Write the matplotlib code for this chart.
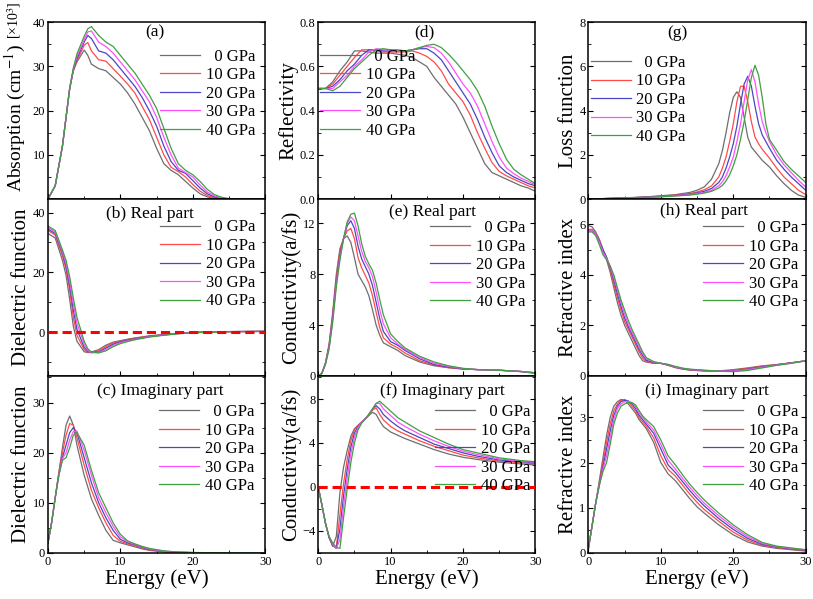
import matplotlib
matplotlib.use('Agg')
import matplotlib.pyplot as plt
from matplotlib.ticker import AutoMinorLocator

plt.rcParams['font.family'] = ['Liberation Serif', 'DejaVu Serif']
plt.rcParams['mathtext.fontset'] = 'stix'
plt.rcParams['axes.linewidth'] = 1.1

pressures = ['\u20070 GPa', '10 GPa', '20 GPa', '30 GPa', '40 GPa']
colors = ['#6e6e6e', '#ff4a4a', '#4848c0', '#ff50ff', '#3fa040']

# (a) absorption [x10^3 cm^-1]
E_abs = [0, 1, 2, 3, 3.5, 4, 5, 5.5, 6, 7, 8, 9, 10, 11, 12, 13, 14, 15, 16, 17, 18, 19, 20, 21, 22, 23, 24, 25, 26, 28, 30]
abs_0 = [0, 3, 12, 25, 29, 31, 33.7, 32.5, 30.5, 29.5, 29, 27.5, 26, 24, 21.5, 18.5, 15.5, 11.5, 8, 6.5, 5.5, 4, 2.5, 1.2, 0.5, 0.1, 0, 0, 0, 0, 0]
abs_10 = [0, 3, 12, 25, 29, 31.3, 34.8, 35.4, 33.5, 31.5, 31.2, 29.5, 27.8, 26, 24, 21, 18, 14, 10, 7.2, 6.2, 5, 3.3, 1.8, 0.8, 0.3, 0.05, 0, 0, 0, 0]
abs_20 = [0, 3, 12, 25, 29.2, 31.8, 35.5, 37, 36.3, 33.5, 33, 31.5, 29.5, 27.5, 25.5, 23, 20, 16.5, 12, 8.5, 6.5, 5.8, 4.2, 2.5, 1.2, 0.5, 0.1, 0, 0, 0, 0]
abs_30 = [0, 3, 12, 25, 29.4, 32.3, 36, 37.8, 38, 35.5, 34.5, 33, 31, 29, 27, 24.5, 22, 18.5, 14, 10, 7, 6, 5, 3.2, 1.6, 0.7, 0.2, 0.05, 0, 0, 0]
abs_40 = [0, 3, 12, 25, 29.6, 32.8, 36.8, 38.5, 39, 37, 35.5, 34.5, 32.5, 30.5, 28.5, 26, 23.5, 20.5, 16, 11.5, 8, 6.5, 5.5, 4, 2.2, 1, 0.4, 0.1, 0.02, 0, 0]

# (b) dielectric function, real part
E_eps1 = [0, 1, 2, 2.5, 3, 3.5, 4, 5, 5.5, 6, 7, 8, 9, 10, 11, 12, 14, 16, 18, 20, 22, 25, 30]
eps1_0 = [33, 31.5, 24, 19, 11, 2, -3, -6.5, -6.8, -6.6, -5.8, -4.3, -3.3, -2.8, -2.3, -1.9, -1.2, -0.7, -0.3, 0, 0.1, 0.25, 0.3]
eps1_10 = [34, 32.5, 25.5, 21, 14, 5, -1, -5.8, -6.7, -6.8, -6.2, -4.8, -3.6, -3.0, -2.5, -2.0, -1.3, -0.8, -0.35, -0.05, 0.1, 0.2, 0.3]
eps1_20 = [34.5, 33, 26.5, 22, 15.5, 7.5, 1, -5, -6.4, -6.8, -6.6, -5.3, -4.0, -3.2, -2.7, -2.2, -1.4, -0.9, -0.4, -0.1, 0.05, 0.2, 0.3]
eps1_30 = [35, 33.5, 27, 23, 17, 9.5, 3, -4, -6, -6.8, -6.8, -5.8, -4.4, -3.5, -2.9, -2.4, -1.5, -0.9, -0.45, -0.15, 0.05, 0.2, 0.3]
eps1_40 = [35.5, 34, 27.5, 24, 18.5, 11.5, 5, -3, -5.5, -6.6, -6.9, -6.2, -4.8, -3.8, -3.1, -2.5, -1.6, -1.0, -0.5, -0.2, 0.0, 0.2, 0.3]

# (c) dielectric function, imaginary part
E_eps2 = [0, 0.5, 1, 1.5, 2, 2.5, 3, 3.5, 4, 5, 6, 7, 8, 9, 10, 11, 12, 13, 14, 16, 18, 20, 25, 30]
eps2_0 = [2, 6, 11, 16, 21, 25.5, 27.3, 25.5, 21.5, 15.5, 10.8, 7.5, 4.5, 2.5, 2, 1.6, 1.2, 0.8, 0.5, 0.2, 0.1, 0.05, 0.02, 0]
eps2_10 = [2, 6, 11, 16, 20, 23.5, 25.8, 25.5, 23, 17.5, 12.5, 9, 6, 3.5, 2.3, 1.8, 1.4, 1.0, 0.6, 0.25, 0.1, 0.05, 0.02, 0]
eps2_20 = [2, 6, 11, 15.5, 19, 21.5, 24, 25, 24, 19, 14, 10, 7, 4.5, 2.7, 2.0, 1.6, 1.1, 0.7, 0.3, 0.12, 0.05, 0.02, 0]
eps2_30 = [2, 6, 11, 15.5, 18.8, 20, 22.5, 24.2, 24.3, 20.5, 15.5, 11, 8, 5.3, 3.2, 2.2, 1.7, 1.2, 0.8, 0.35, 0.15, 0.06, 0.02, 0]
eps2_40 = [2, 6, 11, 15.5, 18.5, 19, 21, 23.5, 24, 21.5, 16.5, 12, 9, 6, 3.7, 2.4, 1.8, 1.3, 0.9, 0.4, 0.15, 0.07, 0.02, 0]

# (d) reflectivity
E_ref = [0, 1, 2, 3, 4, 5, 6, 7, 8, 9, 10, 11, 12, 13, 14, 15, 16, 17, 18, 19, 20, 21, 22, 23, 24, 25, 26, 27, 28, 29, 30]
ref_0 = [0.50, 0.50, 0.53, 0.58, 0.62, 0.67, 0.67, 0.665, 0.66, 0.66, 0.66, 0.655, 0.65, 0.64, 0.62, 0.60, 0.55, 0.51, 0.47, 0.43, 0.37, 0.30, 0.23, 0.16, 0.12, 0.105, 0.09, 0.075, 0.06, 0.05, 0.035]
ref_10 = [0.50, 0.50, 0.52, 0.56, 0.60, 0.64, 0.675, 0.675, 0.67, 0.665, 0.665, 0.665, 0.665, 0.67, 0.66, 0.645, 0.62, 0.58, 0.52, 0.48, 0.44, 0.38, 0.30, 0.23, 0.165, 0.125, 0.105, 0.09, 0.075, 0.06, 0.05]
ref_20 = [0.50, 0.50, 0.51, 0.54, 0.58, 0.61, 0.65, 0.675, 0.675, 0.67, 0.67, 0.67, 0.67, 0.675, 0.68, 0.68, 0.66, 0.63, 0.58, 0.53, 0.48, 0.43, 0.36, 0.28, 0.21, 0.15, 0.12, 0.10, 0.085, 0.07, 0.06]
ref_30 = [0.50, 0.50, 0.50, 0.53, 0.56, 0.60, 0.63, 0.665, 0.68, 0.675, 0.675, 0.67, 0.67, 0.675, 0.685, 0.69, 0.685, 0.66, 0.62, 0.57, 0.52, 0.48, 0.42, 0.34, 0.26, 0.19, 0.14, 0.115, 0.095, 0.08, 0.065]
ref_40 = [0.50, 0.50, 0.49, 0.51, 0.55, 0.59, 0.62, 0.65, 0.675, 0.68, 0.675, 0.675, 0.67, 0.675, 0.685, 0.695, 0.70, 0.685, 0.655, 0.62, 0.58, 0.54, 0.49, 0.42, 0.33, 0.25, 0.18, 0.135, 0.11, 0.09, 0.07]

# (e) conductivity, real part
E_sig1 = [0, 0.5, 1, 1.5, 2, 2.5, 3, 3.5, 4, 4.5, 5, 5.5, 6, 6.5, 7, 7.5, 8, 8.5, 9, 10, 11, 12, 14, 16, 18, 20, 22, 25, 28, 30]
sig1_0 = [0, 0.2, 1, 2.5, 5, 8, 10, 10.8, 11, 10.5, 9.3, 8, 7.5, 7, 6.3, 5.2, 4, 3.2, 2.6, 2.3, 2.0, 1.6, 1.1, 0.8, 0.65, 0.55, 0.5, 0.45, 0.35, 0.2]
sig1_10 = [0, 0.2, 1, 2.4, 4.8, 7.7, 9.8, 10.8, 11.4, 11.6, 10.8, 9.3, 8.5, 7.9, 7.3, 6.3, 5.0, 3.8, 3.0, 2.5, 2.2, 1.8, 1.2, 0.85, 0.65, 0.55, 0.5, 0.45, 0.35, 0.22]
sig1_20 = [0, 0.2, 1, 2.3, 4.6, 7.4, 9.5, 10.8, 11.8, 12.2, 11.6, 10.2, 9.2, 8.6, 8.0, 7.1, 5.8, 4.5, 3.5, 2.7, 2.4, 2.0, 1.35, 0.9, 0.7, 0.55, 0.5, 0.45, 0.35, 0.25]
sig1_30 = [0, 0.2, 0.95, 2.2, 4.4, 7.2, 9.3, 10.8, 12, 12.5, 12.2, 11, 9.8, 9.0, 8.5, 7.8, 6.6, 5.2, 4.1, 3.0, 2.5, 2.1, 1.45, 1.0, 0.75, 0.58, 0.5, 0.45, 0.35, 0.25]
sig1_40 = [0, 0.2, 0.9, 2.1, 4.2, 7, 9.1, 10.8, 12.1, 12.7, 12.8, 11.8, 10.4, 9.4, 8.8, 8.3, 7.3, 6, 4.8, 3.3, 2.7, 2.2, 1.55, 1.1, 0.8, 0.6, 0.5, 0.45, 0.35, 0.25]

# (f) conductivity, imaginary part
E_sig2 = [0, 0.5, 1, 1.5, 2, 2.5, 3, 3.5, 4, 4.5, 5, 5.5, 6, 6.5, 7, 7.5, 8, 8.5, 9, 10, 11, 12, 14, 16, 18, 20, 22, 25, 28, 30]
sig2_0 = [0, -1.6, -3.3, -4.6, -5.4, -4.5, -0.5, 1.8, 3.3, 4.6, 5.3, 5.6, 5.9, 6.2, 6.5, 6.8, 6.6, 6.0, 5.5, 5.0, 4.7, 4.4, 3.9, 3.4, 3.0, 2.7, 2.5, 2.25, 2.1, 2.0]
sig2_10 = [0, -1.6, -3.3, -4.6, -5.3, -5.5, -2.5, 0.3, 2.5, 4.2, 5.2, 5.6, 5.9, 6.2, 6.6, 7.0, 7.2, 6.6, 6.1, 5.5, 5.1, 4.8, 4.2, 3.7, 3.3, 2.9, 2.65, 2.35, 2.2, 2.1]
sig2_20 = [0, -1.6, -3.3, -4.6, -5.3, -5.6, -3.8, -0.8, 1.6, 3.6, 4.9, 5.5, 5.9, 6.2, 6.6, 7.1, 7.4, 7.1, 6.6, 6.0, 5.5, 5.1, 4.5, 3.9, 3.5, 3.1, 2.8, 2.45, 2.3, 2.2]
sig2_30 = [0, -1.6, -3.3, -4.5, -5.2, -5.6, -4.8, -1.8, 0.8, 3.0, 4.5, 5.4, 5.9, 6.2, 6.6, 7.1, 7.6, 7.6, 7.1, 6.5, 5.9, 5.5, 4.8, 4.2, 3.7, 3.25, 2.95, 2.55, 2.35, 2.25]
sig2_40 = [0, -1.6, -3.3, -4.5, -5.1, -5.5, -5.6, -2.8, -0.2, 2.2, 4.0, 5.2, 5.8, 6.2, 6.6, 7.1, 7.6, 7.8, 7.5, 6.9, 6.3, 5.9, 5.1, 4.5, 3.9, 3.4, 3.1, 2.65, 2.4, 2.3]

# (g) loss function
E_loss = [0, 2, 4, 6, 8, 10, 12, 14, 15, 16, 17, 18, 18.5, 19, 19.5, 20, 20.5, 21, 21.5, 22, 22.5, 23, 23.5, 24, 24.5, 25, 26, 27, 28, 29, 30]
loss_0 = [0, 0.02, 0.04, 0.07, 0.1, 0.15, 0.2, 0.3, 0.4, 0.55, 0.9, 1.6, 2.2, 3.0, 3.9, 4.6, 4.85, 4.6, 3.7, 2.8, 2.35, 2.15, 1.95, 1.75, 1.6, 1.45, 1.05, 0.7, 0.4, 0.18, 0.08]
loss_10 = [0, 0.02, 0.04, 0.06, 0.09, 0.13, 0.18, 0.25, 0.32, 0.42, 0.6, 1.0, 1.4, 1.9, 2.6, 3.4, 4.4, 5.1, 5.1, 4.4, 3.5, 2.8, 2.5, 2.25, 2.05, 1.85, 1.4, 1.0, 0.7, 0.4, 0.2]
loss_20 = [0, 0.02, 0.04, 0.06, 0.09, 0.12, 0.16, 0.22, 0.28, 0.35, 0.48, 0.75, 1.0, 1.4, 1.9, 2.5, 3.3, 4.3, 5.2, 5.55, 5.1, 4.2, 3.4, 2.9, 2.6, 2.3, 1.75, 1.35, 1.0, 0.7, 0.4]
loss_30 = [0, 0.02, 0.04, 0.06, 0.08, 0.11, 0.15, 0.2, 0.25, 0.3, 0.4, 0.6, 0.78, 1.05, 1.45, 1.9, 2.6, 3.4, 4.4, 5.4, 5.85, 5.3, 4.3, 3.5, 3.0, 2.6, 2.0, 1.55, 1.2, 0.85, 0.55]
loss_40 = [0, 0.02, 0.04, 0.05, 0.08, 0.1, 0.14, 0.18, 0.22, 0.27, 0.35, 0.5, 0.62, 0.82, 1.1, 1.5, 2.0, 2.7, 3.5, 4.5, 5.5, 6.05, 5.6, 4.6, 3.4, 2.7, 2.2, 1.7, 1.35, 1.05, 0.75]

# (h) refractive index, real part
E_n = [0, 0.5, 1, 1.5, 2, 2.5, 3, 3.5, 4, 4.5, 5, 5.5, 6, 6.5, 7, 7.5, 8, 9, 10, 11, 12, 13, 14, 16, 18, 20, 22, 24, 26, 28, 30]
n_0 = [5.95, 5.9, 5.7, 5.4, 5.0, 4.6, 4.1, 3.5, 2.9, 2.4, 2.0, 1.7, 1.4, 1.1, 0.8, 0.6, 0.55, 0.5, 0.5, 0.42, 0.33, 0.27, 0.23, 0.2, 0.2, 0.25, 0.32, 0.4, 0.45, 0.52, 0.6]
n_10 = [5.8, 5.8, 5.65, 5.4, 5.0, 4.7, 4.2, 3.65, 3.1, 2.6, 2.15, 1.85, 1.55, 1.25, 0.95, 0.7, 0.57, 0.52, 0.5, 0.43, 0.34, 0.28, 0.24, 0.2, 0.19, 0.22, 0.3, 0.38, 0.45, 0.52, 0.6]
n_20 = [5.75, 5.75, 5.6, 5.35, 5.0, 4.7, 4.3, 3.8, 3.25, 2.75, 2.3, 1.95, 1.65, 1.35, 1.05, 0.8, 0.62, 0.53, 0.5, 0.44, 0.35, 0.29, 0.25, 0.21, 0.19, 0.2, 0.27, 0.36, 0.44, 0.52, 0.6]
n_30 = [5.75, 5.75, 5.6, 5.3, 4.9, 4.65, 4.35, 3.9, 3.4, 2.9, 2.45, 2.05, 1.75, 1.45, 1.15, 0.88, 0.68, 0.55, 0.5, 0.45, 0.36, 0.3, 0.26, 0.22, 0.19, 0.19, 0.25, 0.34, 0.43, 0.51, 0.6]
n_40 = [5.7, 5.7, 5.55, 5.2, 4.8, 4.6, 4.35, 4.0, 3.5, 3.0, 2.6, 2.2, 1.85, 1.55, 1.25, 0.95, 0.72, 0.57, 0.5, 0.46, 0.38, 0.31, 0.27, 0.23, 0.19, 0.17, 0.22, 0.32, 0.42, 0.5, 0.6]

# (i) refractive index, imaginary part
E_k = [0, 0.5, 1, 1.5, 2, 2.5, 3, 3.5, 4, 4.5, 5, 5.5, 6, 6.5, 7, 7.5, 8, 9, 10, 11, 12, 13, 14, 15, 16, 18, 20, 22, 24, 26, 28, 30]
k_0 = [0.1, 0.6, 1.1, 1.6, 2.1, 2.6, 3.0, 3.25, 3.35, 3.4, 3.38, 3.3, 3.2, 3.1, 2.95, 2.85, 2.75, 2.45, 2.0, 1.75, 1.6, 1.4, 1.2, 1.02, 0.88, 0.62, 0.4, 0.24, 0.15, 0.1, 0.07, 0.04]
k_10 = [0.1, 0.6, 1.1, 1.55, 2.0, 2.45, 2.85, 3.15, 3.3, 3.38, 3.4, 3.35, 3.25, 3.15, 3.0, 2.9, 2.8, 2.55, 2.15, 1.85, 1.7, 1.5, 1.3, 1.12, 0.96, 0.7, 0.46, 0.28, 0.17, 0.12, 0.08, 0.05]
k_20 = [0.1, 0.6, 1.1, 1.5, 1.9, 2.3, 2.7, 3.05, 3.25, 3.35, 3.38, 3.37, 3.3, 3.2, 3.05, 2.95, 2.85, 2.65, 2.3, 1.95, 1.78, 1.58, 1.38, 1.2, 1.04, 0.76, 0.52, 0.32, 0.19, 0.13, 0.09, 0.06]
k_30 = [0.1, 0.6, 1.1, 1.5, 1.85, 2.15, 2.55, 2.95, 3.2, 3.3, 3.35, 3.36, 3.33, 3.25, 3.1, 3.0, 2.9, 2.72, 2.4, 2.05, 1.86, 1.65, 1.45, 1.27, 1.1, 0.82, 0.57, 0.36, 0.21, 0.14, 0.1, 0.07]
k_40 = [0.1, 0.6, 1.1, 1.5, 1.8, 2.0, 2.4, 2.85, 3.1, 3.25, 3.3, 3.33, 3.33, 3.28, 3.15, 3.03, 2.95, 2.8, 2.5, 2.15, 1.95, 1.73, 1.52, 1.34, 1.17, 0.88, 0.62, 0.4, 0.23, 0.15, 0.11, 0.07]

panels = [
    # col 1
    [(E_abs, [abs_0, abs_10, abs_20, abs_30, abs_40], 'Absorption (cm$^{-1}$)', (0, 40), [10, 20, 30, 40], '(a)', (0.49, 0.94), 'upper right', (0.955, 0.85)),
     (E_eps1, [eps1_0, eps1_10, eps1_20, eps1_30, eps1_40], 'Dielectric function', (-14.6, 44.5), [0, 20, 40], '(b) Real part', (0.47, 0.915), 'upper right', (0.955, 0.885)),
     (E_eps2, [eps2_0, eps2_10, eps2_20, eps2_30, eps2_40], 'Dielectric function', (0, 35.3), [0, 10, 20, 30], '(c) Imaginary part', (0.515, 0.915), 'upper right', (0.95, 0.84))],
    # col 2
    [(E_ref, [ref_0, ref_10, ref_20, ref_30, ref_40], 'Reflectivity', (0, 0.8), [0, 0.2, 0.4, 0.6, 0.8], '(d)', (0.49, 0.94), 'upper left', (0.01, 0.85)),
     (E_sig1, [sig1_0, sig1_10, sig1_20, sig1_30, sig1_40], 'Conductivity(a/fs)', (0, 13.9), [0, 4, 8, 12], '(e) Real part', (0.525, 0.925), 'upper right', (0.955, 0.88)),
     (E_sig2, [sig2_0, sig2_10, sig2_20, sig2_30, sig2_40], 'Conductivity(a/fs)', (-6, 10.1), [-4, 0, 4, 8], '(f) Imaginary part', (0.57, 0.915), 'upper right', (0.975, 0.84))],
    # col 3
    [(E_loss, [loss_0, loss_10, loss_20, loss_30, loss_40], 'Loss function', (0, 8), [0, 2, 4, 6, 8], '(g)', (0.41, 0.94), 'upper left', (0.01, 0.815)),
     (E_n, [n_0, n_10, n_20, n_30, n_40], 'Refractive index', (0, 7), [0, 2, 4, 6], '(h) Real part', (0.53, 0.93), 'upper right', (0.965, 0.88)),
     (E_k, [k_0, k_10, k_20, k_30, k_40], 'Refractive index', (0, 3.92), [0, 1, 2, 3], '(i) Imaginary part', (0.545, 0.915), 'upper right', (0.965, 0.84))],
]

fig, axes = plt.subplots(3, 3, figsize=(8.13, 5.99), dpi=100, sharex='col')
fig.subplots_adjust(left=0.059, right=0.991, top=0.963, bottom=0.077, hspace=0, wspace=0.244)

for c in range(3):
    for r in range(3):
        ax = axes[r, c]
        E, series, ylab, ylim, yticks, title, tpos, lloc, lanchor = panels[c][r]
        for y, col, lab in zip(series, colors, pressures):
            ax.plot(E, y, color=col, lw=0.9, label=lab)
        if title.startswith('(b)') or title.startswith('(f)'):
            ax.axhline(0, color='red', lw=2.2, ls=(0, (3, 1.6)), zorder=5)
        ax.set_xlim(0, 30)
        ax.set_ylim(*ylim)
        ax.set_yticks(yticks)
        if c == 1 and r == 0:
            ax.set_yticklabels(['0.0', '0.2', '0.4', '0.6', '0.8'])
        ax.set_xticks([0, 10, 20, 30])
        ax.xaxis.set_minor_locator(AutoMinorLocator(2))
        ax.yaxis.set_minor_locator(AutoMinorLocator(2))
        ax.tick_params(which='both', direction='in', right=True, top=False, labelsize=9, pad=2)
        ax.tick_params(which='major', length=3.5)
        ax.tick_params(which='minor', length=2)
        ax.set_ylabel(ylab, fontsize=15, labelpad=1)
        ax.text(tpos[0], tpos[1], title, transform=ax.transAxes, ha='center', va='center', fontsize=12.5)
        ax.legend(loc=lloc, bbox_to_anchor=lanchor, frameon=False, fontsize=12,
                  handlelength=2.4, handletextpad=0.35, labelspacing=0.15, borderpad=0, borderaxespad=0)
        if r == 2:
            ax.set_xlabel('Energy (eV)', fontsize=15, labelpad=1)

axes[0, 0].yaxis.label.set_fontsize(14)
axes[0, 0].yaxis.set_label_coords(-0.094, 0.46)
fig.text(0.017, 0.966, '[\u00d710$^3$]', rotation=90, ha='center', va='center', fontsize=10)

plt.savefig('out.png', dpi=100)
